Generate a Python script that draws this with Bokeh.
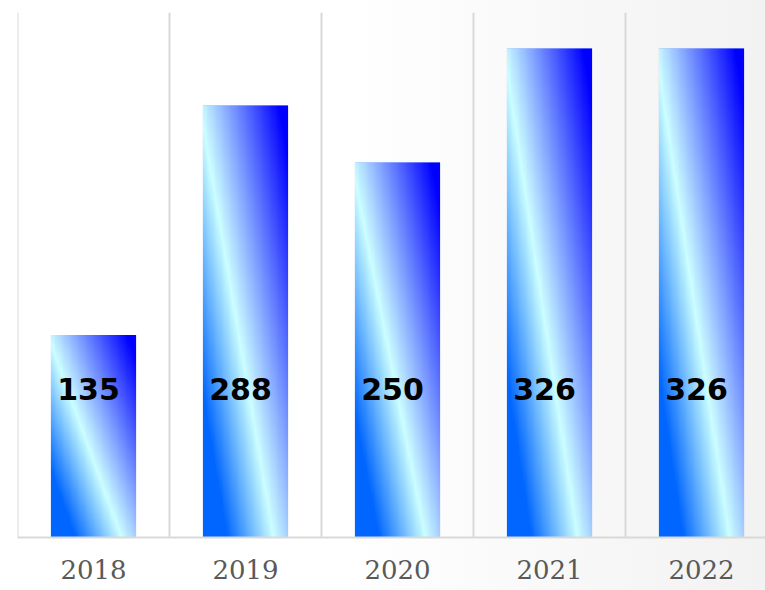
import numpy as np
from bokeh.plotting import figure
from bokeh.models import Range1d, FixedTicker, ColumnDataSource
from bokeh.core.properties import value
from bokeh.embed import file_html
from bokeh.resources import INLINE

# ---- data ----
years = ["2018", "2019", "2020", "2021", "2022"]
counts = [135, 288, 250, 326, 326]

# ---- layout / styling constants ----
W, H = 765, 590
LEFT, TOP, BASE = 17, 12, 537      # frame left, frame top, baseline (px)
PX_PER_CAT = 152
Y_MAX = 350
PX_PER_UNIT = (BASE - TOP) / Y_MAX
Y_MIN = -(H - BASE) / PX_PER_UNIT
BAR_W = 0.56
LABEL_Y = 99

centers = [i + 0.5 for i in range(len(years))]
bounds = list(range(len(years) + 1))


def gradient_rgba(nx=96, ny=480):
    u = np.linspace(0.0, 1.0, nx)[None, :]
    v = np.linspace(1.0, 0.0, ny)[:, None]  # row 0 = bottom of bar
    s = u - 0.874 * (v - 0.05)
    st = [-1.0, -0.55, 0.0, 0.95, 1.2]
    r = np.interp(s, st, [0, 0, 204, 0, 0])
    g = np.interp(s, st, [102, 102, 255, 0, 0])
    b = np.interp(s, st, [255, 255, 255, 255, 255])
    img = np.empty((ny, nx), dtype=np.uint32)
    view = img.view(dtype=np.uint8).reshape((ny, nx, 4))
    view[:, :, 0] = r.astype(np.uint8)
    view[:, :, 1] = g.astype(np.uint8)
    view[:, :, 2] = b.astype(np.uint8)
    view[:, :, 3] = 255
    return img


grad = gradient_rgba()

src = ColumnDataSource(dict(
    x=centers,
    left=[c - BAR_W / 2 for c in centers],
    top=counts,
    bottom=[0] * len(counts),
    w=[BAR_W] * len(counts),
    img=[grad for _ in counts],
    label=[str(c) for c in counts],
    ly=[LABEL_Y] * len(counts),
))

p = figure(width=W, height=H, output_backend="svg", toolbar_location=None,
           x_range=Range1d(0, (W - LEFT) / PX_PER_CAT), y_range=Range1d(Y_MIN, Y_MAX),
           min_border_left=LEFT, min_border_right=0, min_border_top=TOP, min_border_bottom=0,
           border_fill_color=None, background_fill_color=None,
           styles={"background": "linear-gradient(to right, #ffffff 45%, #f2f2f2 100%)"})
p.outline_line_color = None
p.xgrid.visible = False
p.ygrid.visible = False
p.yaxis.visible = False

# category separators (grid lines) from baseline to top
p.segment(x0=bounds, y0=[0] * len(bounds), x1=bounds, y1=[Y_MAX] * len(bounds),
          line_color="#d9d9d9", line_width=2)

p.vbar(x="x", width="w", top="top", bottom="bottom", source=src,
       fill_color="#6f9bff", line_color=None)
p.image_rgba(image="img", x="left", y="bottom", dw="w", dh="top", source=src)

p.text(x="x", y="ly", text="label", source=src, text_align="center",
       text_baseline="alphabetic", x_offset=-5,
       text_font=value("DejaVu Sans"), text_font_style="bold",
       text_font_size="30px", text_color="#000000")

ax = p.xaxis[0]
ax.fixed_location = 0
ax.ticker = FixedTicker(ticks=centers)
ax.major_label_overrides = {c: y for c, y in zip(centers, years)}
ax.axis_line_color = "#d9d9d9"
ax.axis_line_width = 2
ax.major_tick_line_color = None
ax.minor_tick_line_color = None
ax.major_tick_out = 0
ax.major_tick_in = 0
ax.major_label_standoff = 22
ax.major_label_text_font = "DejaVu Serif"
ax.major_label_text_font_size = "26px"
ax.major_label_text_color = "#595959"

open("out.html", "w").write(file_html(p, INLINE))
